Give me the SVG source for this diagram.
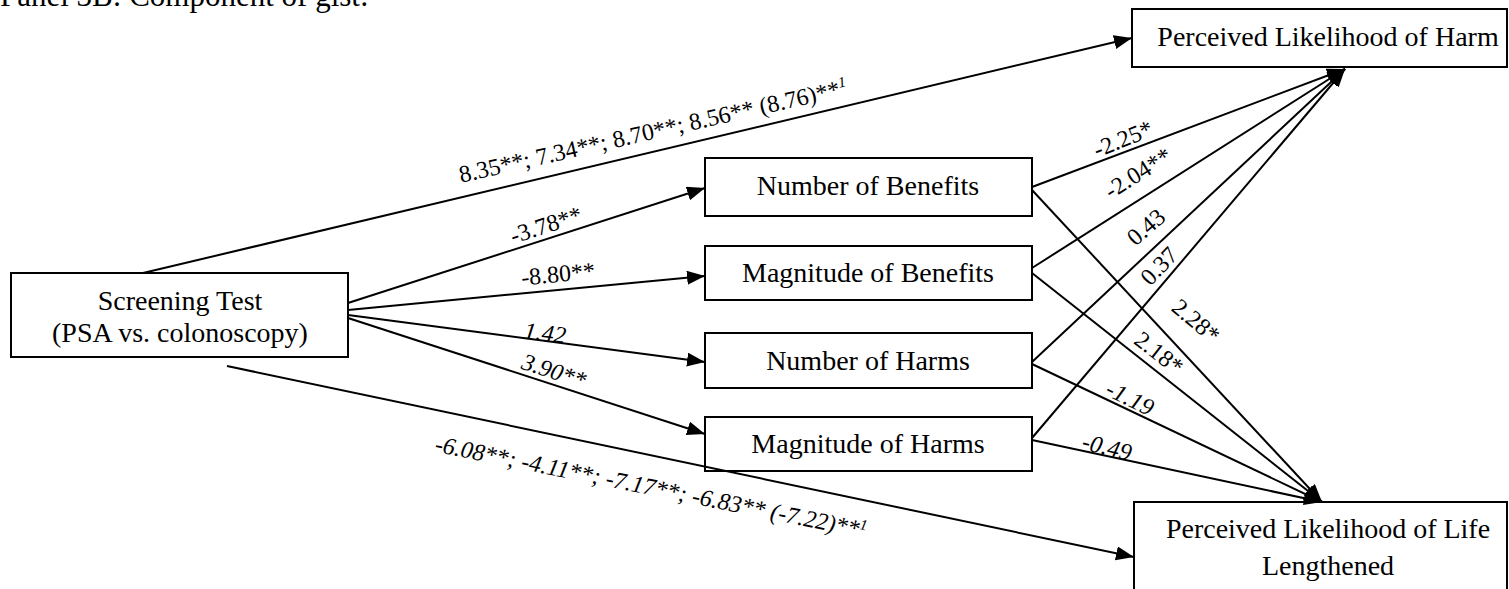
<svg xmlns="http://www.w3.org/2000/svg" width="1509" height="589" viewBox="0 0 1509 589">
<defs>
<marker id="ah" markerUnits="userSpaceOnUse" markerWidth="20" markerHeight="16" refX="18" refY="7" orient="auto">
<path d="M0,0 L18,7 L0,14 z" fill="#000"/>
</marker>
<style>
text{font-family:"Liberation Serif","Times New Roman",serif;fill:#000}
.node rect{fill:#fff;stroke:#000;stroke-width:2}
.node text{font-size:28px;text-anchor:middle}
.lbl{font-size:24px;text-anchor:middle}
.it{font-style:italic}
.sup{font-size:15px}
#connectors path{fill:none;stroke:#000;stroke-width:2;marker-end:url(#ah)}
</style>
</defs>
<rect x="0" y="0" width="1509" height="589" fill="#fff"/>
<text x="0" y="6" style="font-size:31px">Panel 3B: Component of gist:</text>

<g id="n_screen" class="node">
<rect x="11" y="273" width="337" height="84"/>
<text x="180" y="310">Screening Test</text>
<text x="180" y="342">(PSA vs. colonoscopy)</text>
</g>
<g id="n_numben" class="node">
<rect x="705" y="158" width="327" height="58"/>
<text x="868" y="195">Number of Benefits</text>
</g>
<g id="n_magben" class="node">
<rect x="705" y="246" width="327" height="54"/>
<text x="868" y="282">Magnitude of Benefits</text>
</g>
<g id="n_numharm" class="node">
<rect x="705" y="333" width="327" height="55"/>
<text x="868" y="370">Number of Harms</text>
</g>
<g id="n_magharm" class="node">
<rect x="705" y="417" width="327" height="54"/>
<text x="868" y="453">Magnitude of Harms</text>
</g>
<g id="n_harm" class="node">
<rect x="1132" y="9" width="375" height="58"/>
<text x="1328" y="46">Perceived Likelihood of Harm</text>
</g>
<g id="n_life" class="node">
<rect x="1134" y="502" width="373" height="100"/>
<text x="1328" y="538">Perceived Likelihood of Life</text>
<text x="1328" y="575">Lengthened</text>
</g>

<g id="connectors">
<path d="M143,273 L1132,38"/>
<path d="M348,303 L705,188"/>
<path d="M348,310 L705,276"/>
<path d="M348,315 L705,362"/>
<path d="M348,318 L705,434"/>
<path d="M227,366 L1134,557"/>
<path d="M1032,187 L1345,69"/>
<path d="M1032,268 L1345,69"/>
<path d="M1032,362 L1345,69"/>
<path d="M1032,438 L1345,69"/>
<path d="M1032,190 L1322,502"/>
<path d="M1032,273 L1322,502"/>
<path d="M1032,364 L1322,502"/>
<path d="M1032,440 L1322,502"/>
</g>

<g id="labels">
<text class="lbl" transform="translate(653,131) rotate(-12.8)" y="8">8.35**; 7.34**; 8.70**; 8.56** (8.76)**<tspan class="sup it" dy="-9">1</tspan></text>
<text class="lbl" transform="translate(546,225) rotate(-17.8)" y="8">-3.78**</text>
<text class="lbl" transform="translate(558,274) rotate(-5.4)" y="8">-8.80**</text>
<text class="lbl it" transform="translate(545,333) rotate(7.5)" y="8">1.42</text>
<text class="lbl it" transform="translate(554,371) rotate(18)" y="8">3.90**</text>
<text class="lbl it" transform="translate(651,487) rotate(11.4)" y="8">-6.08**; -4.11**; -7.17**; -6.83** (-7.22)**<tspan class="sup" dy="-8">1</tspan></text>
<text class="lbl" transform="translate(1123,139) rotate(-22)" y="8">-2.25*</text>
<text class="lbl" transform="translate(1138,173) rotate(-32)" y="8">-2.04**</text>
<text class="lbl" transform="translate(1146,227) rotate(-41)" y="8">0.43</text>
<text class="lbl" transform="translate(1159,266) rotate(-46)" y="8">0.37</text>
<text class="lbl" transform="translate(1196,321) rotate(40)" y="8">2.28*</text>
<text class="lbl" transform="translate(1159,353) rotate(38)" y="8">2.18*</text>
<text class="lbl it" transform="translate(1130,398) rotate(26)" y="8">-1.19</text>
<text class="lbl it" transform="translate(1107,447) rotate(14)" y="8">-0.49</text>
</g>
</svg>
